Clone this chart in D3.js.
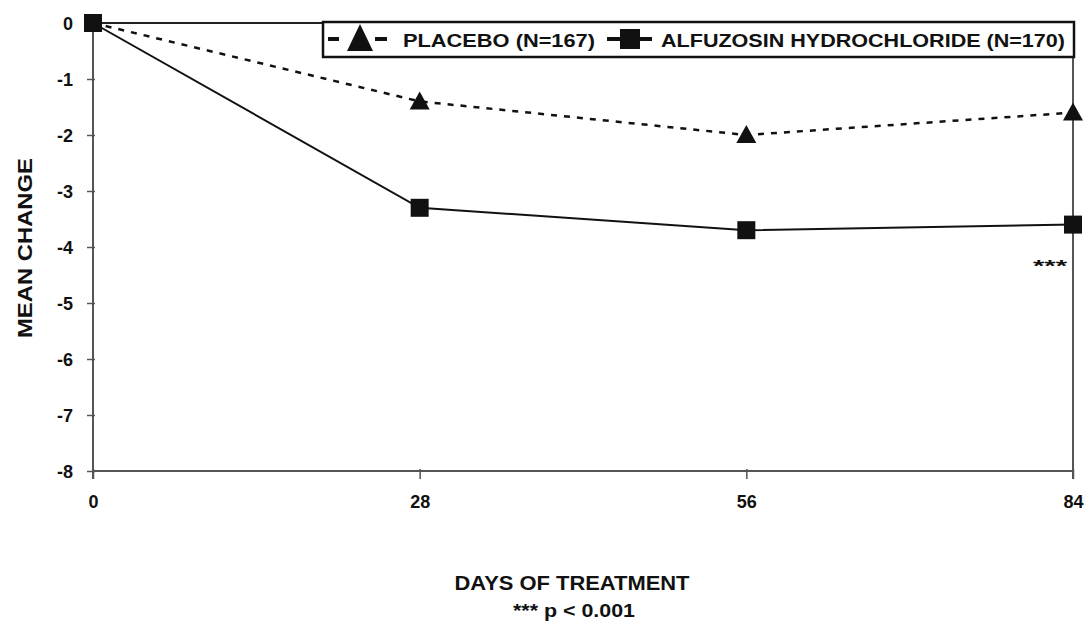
<!DOCTYPE html>
<html><head><meta charset="utf-8">
<script src="https://cdn.jsdelivr.net/npm/d3@7"></script>
<style>body{margin:0;background:#fff}svg{display:block}text{font-family:"Liberation Sans",Arial,sans-serif;font-weight:bold;fill:#111}</style>
</head><body>
<script>
const days = [0, 28, 56, 84];
const xTickLabels = ["0", "28", "56", "84"];
const yTicks = [0, -1, -2, -3, -4, -5, -6, -7, -8];
const placebo = [0, -1.4, -2.0, -1.6];
const alfuzosin = [0, -3.3, -3.7, -3.6];
const seriesNames = ["PLACEBO (N=167)", "ALFUZOSIN HYDROCHLORIDE (N=170)"];

const W = 1089, H = 622;
const svg = d3.select("body").append("svg").attr("width", W).attr("height", H);
const x = d3.scaleLinear().domain([0, 84]).range([93, 1073]);
const y = d3.scaleLinear().domain([-8, 0]).range([471, 23]);
const FONT = '"Liberation Sans",Arial,sans-serif';

const axisCol = "#555";
svg.append("line").attr("x1", x(0)).attr("x2", x(84)).attr("y1", y(0)).attr("y2", y(0)).attr("stroke", "#222").attr("stroke-width", 2);
svg.append("line").attr("x1", x(84)).attr("x2", x(84)).attr("y1", y(0)).attr("y2", y(-8) + 8).attr("stroke", axisCol).attr("stroke-width", 2);

const yAxis = svg.append("g").attr("transform", `translate(${x(0)},0)`)
  .call(d3.axisLeft(y).tickValues(yTicks).tickSize(6).tickPadding(14).tickFormat(d => String(d)));
const xAxis = svg.append("g").attr("transform", `translate(0,${y(-8)})`)
  .call(d3.axisBottom(x).tickValues(days).tickSize(8).tickPadding(16).tickFormat((d, i) => xTickLabels[i]));
[yAxis, xAxis].forEach(g => {
  g.attr("font-size", null).attr("font-family", null);
  g.select(".domain").attr("stroke", axisCol).attr("stroke-width", 2);
  g.selectAll(".tick line").attr("stroke", axisCol).attr("stroke-width", 1.5);
  g.selectAll("text").style("font-size", "18px").style("font-family", FONT).style("font-weight", "bold").attr("fill", "#111");
});
yAxis.selectAll(".tick line").attr("x1", 2).attr("x2", -6);
yAxis.selectAll(".tick text").attr("dy", "0.36em");
xAxis.selectAll(".tick line").attr("y1", -2);
xAxis.select(".domain").attr("d", `M${x(0)},0H${x(84)}`);
yAxis.select(".domain").attr("d", `M0,${y(0)}V${y(-8) + 8}`);

const line = d3.line().x((d, i) => x(days[i])).y(d => y(d));
svg.append("path").datum(placebo).attr("d", line).attr("fill", "none").attr("stroke", "#111").attr("stroke-width", 2.5).attr("stroke-dasharray", "6,7");
svg.append("path").datum(alfuzosin).attr("d", line).attr("fill", "none").attr("stroke", "#111").attr("stroke-width", 2);

const triPath = (w, h) => `M0,${-h / 2}L${w / 2},${h / 2}L${-w / 2},${h / 2}Z`;
svg.selectAll(".tri").data(placebo.slice(1)).enter().append("path")
  .attr("d", triPath(20, 18)).attr("transform", (d, i) => `translate(${x(days[i + 1])},${y(d) - 1})`).attr("fill", "#111");
svg.selectAll(".sq").data(alfuzosin).enter().append("path")
  .attr("d", "M-9,-9H9V9H-9Z").attr("transform", (d, i) => `translate(${x(days[i])},${y(d)})`).attr("fill", "#111");

// legend
const lg = svg.append("g");
lg.append("rect").attr("x", 323).attr("y", 22).attr("width", 751).attr("height", 35).attr("fill", "#fff").attr("stroke", "#111").attr("stroke-width", 2.5);
lg.append("line").attr("x1", 328).attr("x2", 339).attr("y1", 39).attr("y2", 39).attr("stroke", "#111").attr("stroke-width", 4);
lg.append("line").attr("x1", 375).attr("x2", 387).attr("y1", 39).attr("y2", 39).attr("stroke", "#111").attr("stroke-width", 4);
lg.append("path").attr("d", triPath(26, 27)).attr("transform", "translate(360,37.5)").attr("fill", "#111");
lg.append("text").attr("x", 403).attr("y", 47).style("font-size", "19px").attr("textLength", 192).attr("lengthAdjust", "spacingAndGlyphs").text(seriesNames[0]);
lg.append("line").attr("x1", 607).attr("x2", 652).attr("y1", 39).attr("y2", 39).attr("stroke", "#111").attr("stroke-width", 4);
lg.append("path").attr("d", "M-10,-10H10V10H-10Z").attr("transform", "translate(630,39)").attr("fill", "#111");
lg.append("text").attr("x", 661).attr("y", 47).style("font-size", "19px").attr("textLength", 404).attr("lengthAdjust", "spacingAndGlyphs").text(seriesNames[1]);

// annotation
svg.append("text").attr("x", 1050).attr("y", 272).attr("text-anchor", "middle").style("font-size", "17px").attr("textLength", 34).attr("lengthAdjust", "spacingAndGlyphs").text("***");

// axis titles
svg.append("text").attr("transform", "translate(32,248) rotate(-90)").attr("text-anchor", "middle").style("font-size", "20px").attr("textLength", 180).attr("lengthAdjust", "spacingAndGlyphs").text("MEAN CHANGE");
svg.append("text").attr("x", 572).attr("y", 590).attr("text-anchor", "middle").style("font-size", "20px").attr("textLength", 235).attr("lengthAdjust", "spacingAndGlyphs").text("DAYS OF TREATMENT");
svg.append("text").attr("x", 574).attr("y", 617).attr("text-anchor", "middle").style("font-size", "19px").attr("textLength", 122).attr("lengthAdjust", "spacingAndGlyphs").text("*** p < 0.001");
</script>
</body></html>
